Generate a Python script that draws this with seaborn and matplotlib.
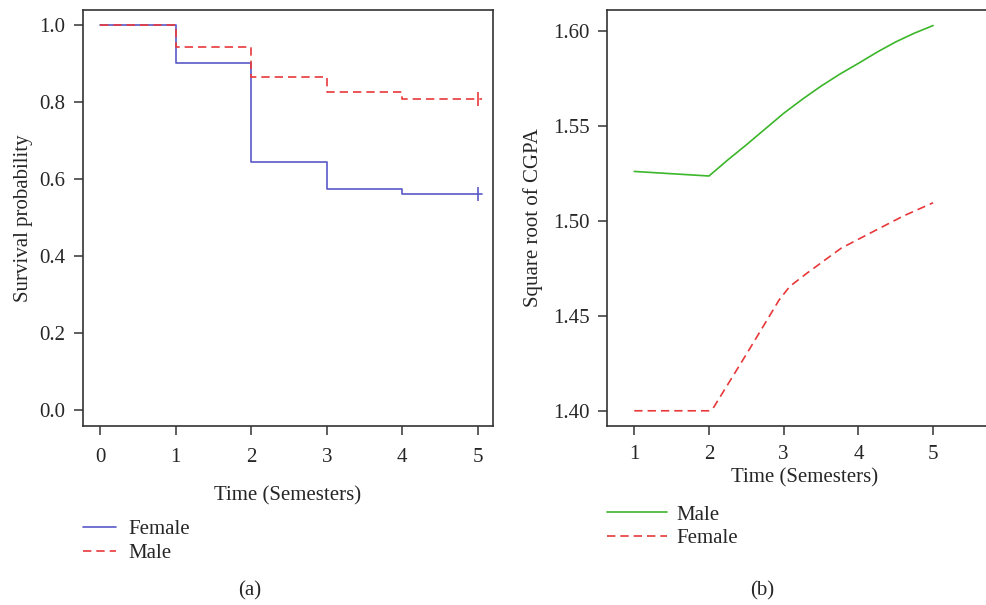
import numpy as np
import pandas as pd
import matplotlib
matplotlib.use("Agg")
import matplotlib.pyplot as plt
import seaborn as sns

# (a) Kaplan-Meier survival estimates by gender
km_time = [0, 1, 2, 3, 4, 5.05]
km_female = [1.0, 0.901, 0.643, 0.572, 0.561, 0.561]
km_male = [1.0, 0.943, 0.863, 0.826, 0.806, 0.806]
censor_time = [5.0]
censor_female = [0.561]
censor_male = [0.806]

# (b) square root of CGPA over semesters
sem_male = [1, 2, 2.25, 2.5, 2.75, 3, 3.25, 3.5, 3.75, 4, 4.25, 4.5, 4.75, 5]
cgpa_male = [1.526, 1.5236, 1.532, 1.540, 1.5483, 1.5566, 1.5640, 1.5709,
             1.5772, 1.5829, 1.5888, 1.5942, 1.5988, 1.6028]
sem_female = [1, 2, 2.05, 2.5, 2.94, 3.08, 3.31, 3.77, 4.24, 4.6, 5]
cgpa_female = [1.400, 1.400, 1.401, 1.4297, 1.4584, 1.4654, 1.4724, 1.4856,
               1.4952, 1.5025, 1.5095]

sns.set_style("ticks")
plt.rcParams['font.family'] = ['Liberation Serif', 'DejaVu Serif']
plt.rcParams['font.size'] = 15

blue = "#5a5ac8"
red = "#e8383a"
green = "#3cb62a"
spine_col = "#333333"

fig = plt.figure(figsize=(9.87, 6.05), dpi=100)
ax1 = fig.add_axes([0.0841, 0.2959, 0.4154, 0.6876])
ax2 = fig.add_axes([0.615, 0.2959, 0.40, 0.6876])

# ---- panel (a)
df_f = pd.DataFrame({"t": km_time, "s": km_female})
df_m = pd.DataFrame({"t": km_time, "s": km_male})
sns.lineplot(data=df_f, x="t", y="s", ax=ax1, color=blue, lw=1.2,
             drawstyle="steps-post", label="Female")
sns.lineplot(data=df_m, x="t", y="s", ax=ax1, color=red, lw=1.2,
             drawstyle="steps-post", label="Male")
ax1.lines[-1].set_linestyle((0, (5, 3)))
ax1.plot(censor_time, censor_female, marker="|", ms=9.5, mew=1.2, color=blue, ls="none")
ax1.plot(censor_time, censor_male, marker="|", ms=9.5, mew=1.2, color=red, ls="none")

ax1.set_xlim(-0.225, 5.2)
ax1.set_ylim(-0.042, 1.038)
ax1.set_xticks([0, 1, 2, 3, 4, 5])
ax1.set_yticks([0.0, 0.2, 0.4, 0.6, 0.8, 1.0])
ax1.set_yticklabels(["0.0", "0.2", "0.4", "0.6", "0.8", "1.0"])
ax1.set_xlabel("Time (Semesters)", labelpad=14)
ax1.set_ylabel("Survival probability", labelpad=5)
for s in ax1.spines.values():
    s.set_color(spine_col)
    s.set_linewidth(1.2)
ax1.tick_params(axis="both", direction="out", length=6.5, width=1.1, color=spine_col)
ax1.tick_params(axis="x", pad=9)
ax1.tick_params(axis="y", pad=6)
ax1.legend(loc="upper left", bbox_to_anchor=(0.0, -0.225), frameon=False,
           handlelength=1.6, handletextpad=0.6, labelspacing=0.2, fontsize=15,
           borderpad=0, borderaxespad=0)
fig.text(0.253, 0.023, "(a)", ha="center", va="center", fontsize=15)

# ---- panel (b)
df_bm = pd.DataFrame({"t": sem_male, "v": cgpa_male})
df_bf = pd.DataFrame({"t": sem_female, "v": cgpa_female})
sns.lineplot(data=df_bm, x="t", y="v", ax=ax2, color=green, lw=1.2, label="Male")
sns.lineplot(data=df_bf, x="t", y="v", ax=ax2, color=red, lw=1.2, label="Female")
ax2.lines[-1].set_linestyle((0, (5, 3)))

ax2.set_xlim(0.635, 5.92)
ax2.set_ylim(1.392, 1.611)
ax2.set_xticks([1, 2, 3, 4, 5])
ax2.set_yticks([1.40, 1.45, 1.50, 1.55, 1.60])
ax2.set_yticklabels(["1.40", "1.45", "1.50", "1.55", "1.60"])
ax2.set_xlabel("Time (Semesters)", labelpad=3)
ax2.set_ylabel("Square root of CGPA", labelpad=7)
ax2.spines["right"].set_visible(False)
for s in ax2.spines.values():
    s.set_color(spine_col)
    s.set_linewidth(1.2)
ax2.tick_params(axis="both", direction="out", length=6.5, width=1.1, color=spine_col)
ax2.tick_params(axis="x", pad=7)
ax2.tick_params(axis="y", pad=6)
ax2.legend(loc="upper left", bbox_to_anchor=(0.0, -0.19), frameon=False,
           handlelength=2.9, handletextpad=0.45, labelspacing=0.2, fontsize=15,
           borderpad=0, borderaxespad=0)
fig.text(0.772, 0.023, "(b)", ha="center", va="center", fontsize=15)

fig.savefig("out.png", dpi=100)
